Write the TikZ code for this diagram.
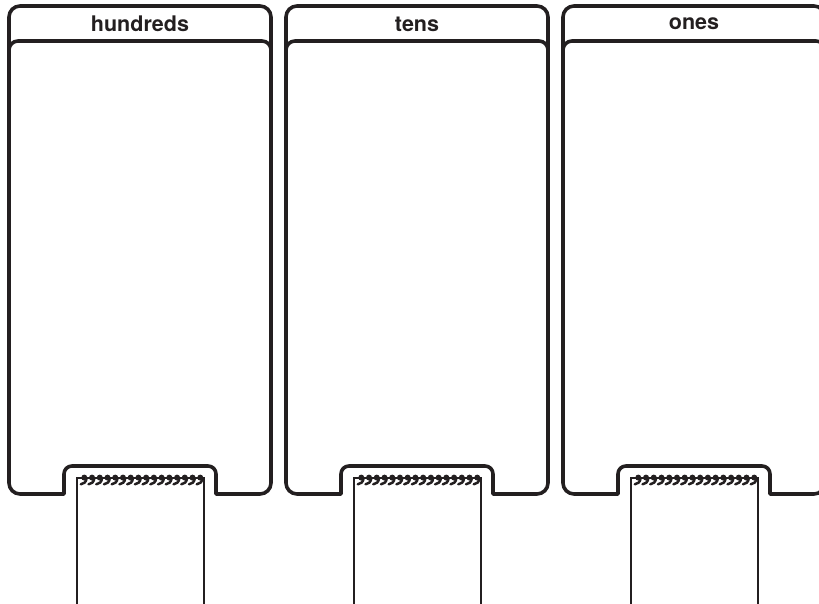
\documentclass[tikz,border=0pt]{standalone}
\usepackage{fontspec}
\setmainfont{TeX Gyre Heros}
\definecolor{ink}{HTML}{231F20}

\begin{document}
\begin{tikzpicture}[x=1pt, y=-1pt,
    panel/.style={line width=3.6pt, draw=ink, line join=round},
    pad/.style={line width=1.4pt, draw=ink},
    coil/.style={line width=2.5pt, draw=ink, line cap=round},
    title/.style={font=\bfseries\fontsize{21.5}{26}\selectfont, text=ink}]
  \useasboundingbox (0,0) rectangle (819,604);

  \foreach \x/\name/\lbl in {9/hund/hundreds, 286/tens/tens, 563/ones/ones} {
    % Outer frame with notch at the bottom
    \draw[panel] (\x+30,494) [rounded corners=11pt] -- (\x,494) -- (\x,6)
      -- (\x+262,6) -- (\x+262,494) [sharp corners] -- (\x+207,494)
      [rounded corners=8pt] -- (\x+207,466) -- (\x+55,466) [sharp corners]
      -- (\x+55,494) -- cycle;

    % Header divider
    \draw[panel] (\x,62) [rounded corners=9pt] -- (\x,41) -- (\x+262,41) -- (\x+262,62);

    % Header label
    \node[title] (\name) at (\x+131,24) {\lbl};

    % Notepad
    \draw[pad] (\x+68,604) -- (\x+68,478) -- (\x+195,478) -- (\x+195,604);

    % Spiral binding
    \foreach \i in {0,...,15} {
      \pgfmathsetmacro{\cx}{\x+74+7.73*\i}
      \fill[ink] (\cx+1.3,477.6) circle (3pt);
      \draw[coil] (\cx+3.6,478) .. controls (\cx+3.4,482) and (\cx+0.5,484.2) .. (\cx-2.2,484.3);
    }
  }
\end{tikzpicture}
\end{document}
